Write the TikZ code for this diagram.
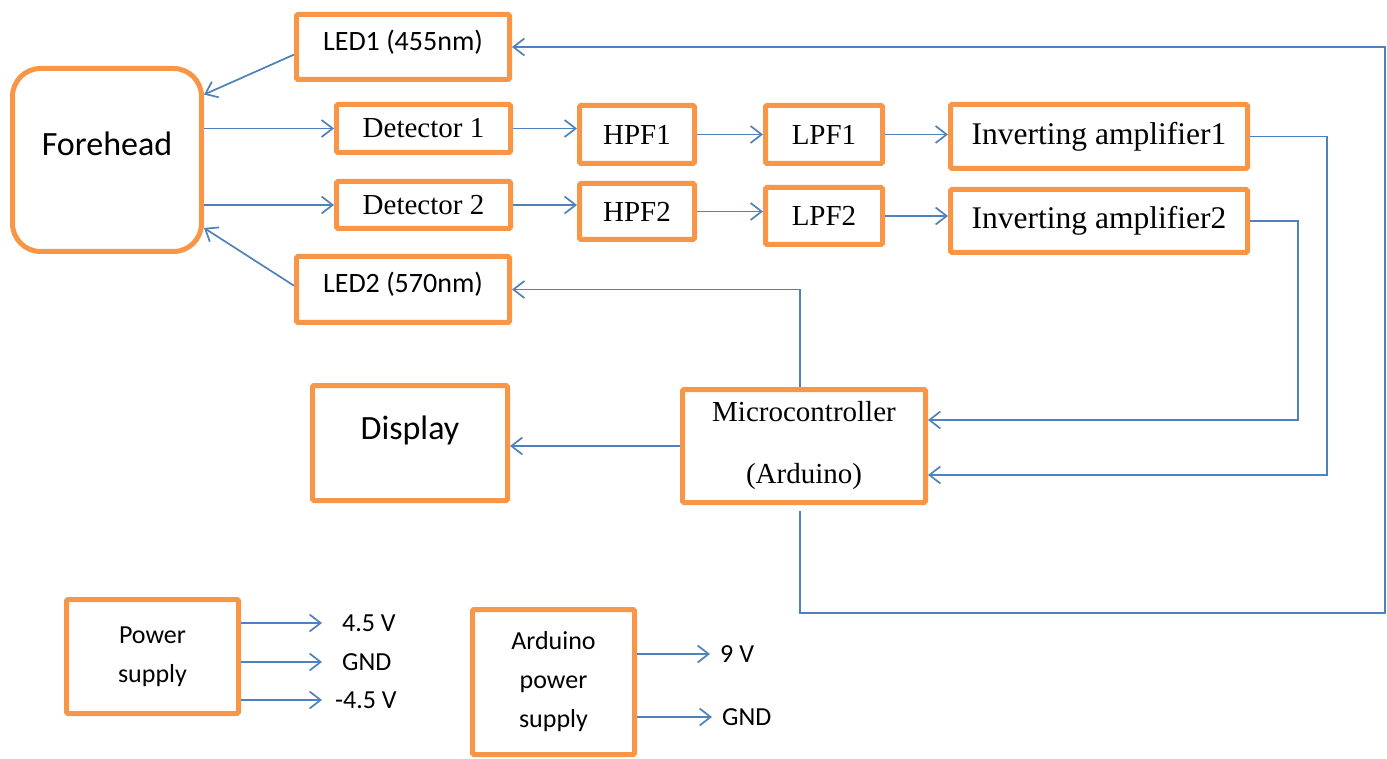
\documentclass[tikz,border=0pt]{standalone}
\usepackage{fontspec}
\setmainfont{Liberation Serif}
\newfontfamily\calib{Carlito}
\usetikzlibrary{arrows.meta}
\definecolor{boxorange}{HTML}{F79646}
\definecolor{wireblue}{HTML}{4F81BD}

\begin{document}
\begin{tikzpicture}[x=1pt,y=-1pt,
  blk/.style={draw=boxorange,line width=5pt,rounded corners=1.5pt,inner sep=0pt},
  bigtxt/.style={font=\calib\fontsize{34}{40}\selectfont},
  sanstxt/.style={font=\calib\fontsize{28}{33}\selectfont},
  smalltxt/.style={font=\calib\fontsize{26}{39}\selectfont},
  seriftxt/.style={font=\fontsize{29}{34}\selectfont},
  widetxt/.style={font=\fontsize{31.5}{36}\selectfont},
  wire/.style={draw=wireblue,line width=1.7pt},
  arr/.style={wire,-{Straight Barb[length=11pt,width=17pt,line width=1.7pt]}}]
\useasboundingbox (0,0) rectangle (1387,759);

% sensor side
\node[blk,minimum width=189,minimum height=183,rounded corners=28pt,
  label={[bigtxt,yshift=16pt]center:Forehead}] (fh) at (107,160) {};
\node[blk,minimum width=213,minimum height=65,
  label={[sanstxt,yshift=5pt]center:LED1 (455nm)}] (led1) at (403,47) {};
\node[blk,seriftxt,minimum width=174,minimum height=48] (det1) at (423.5,128.5) {Detector 1};
\node[blk,seriftxt,minimum width=174,minimum height=47] (det2) at (423.5,205) {Detector 2};
\node[blk,minimum width=213,minimum height=66,
  label={[sanstxt,yshift=5pt]center:LED2 (570nm)}] (led2) at (403,289.5) {};

% filter chain
\node[blk,seriftxt,minimum width=115,minimum height=58] (hpf1) at (637,134.5) {HPF1};
\node[blk,seriftxt,minimum width=115,minimum height=56] (hpf2) at (637,211.5) {HPF2};
\node[blk,seriftxt,minimum width=117,minimum height=58] (lpf1) at (824,134.5) {LPF1};
\node[blk,seriftxt,minimum width=117,minimum height=57] (lpf2) at (824,216) {LPF2};
\node[blk,widetxt,minimum width=297,minimum height=64] (ia1) at (1099,136.5) {Inverting amplifier1};
\node[blk,widetxt,minimum width=297,minimum height=63] (ia2) at (1099,221) {Inverting amplifier2};

% controller and display
\node[blk,minimum width=195,minimum height=115,
  label={[bigtxt,yshift=13pt]center:Display}] (disp) at (410,443) {};
\node[blk,seriftxt,align=center,minimum width=243,minimum height=113] (mc) at (804,446)
  {Microcontroller\\[28pt](Arduino)};

% supplies
\node[blk,smalltxt,align=center,minimum width=172,minimum height=114] (psu) at (152.5,656.5)
  {Power\\supply};
\node[blk,smalltxt,align=center,minimum width=162,minimum height=145] (apsu) at (553.5,682)
  {Arduino\\power\\supply};
\node[smalltxt,anchor=west,inner sep=0pt] (v1) at (342,623) {4.5 V};
\node[smalltxt,anchor=west,inner sep=0pt] (v0) at (342,662) {GND};
\node[smalltxt,anchor=west,inner sep=0pt] (v2) at (335,700) {-4.5 V};
\node[smalltxt,anchor=west,inner sep=0pt] (v9) at (720,654) {9 V};
\node[smalltxt,anchor=west,inner sep=0pt] (vg) at (722,717) {GND};

\coordinate (bus1) at (1327,0);
\coordinate (bus2) at (1298,0);
\coordinate (loop) at (1385,613);

% connections
\draw[arr] (led1.184) -- (fh.34);
\draw[arr] (led2.178) -- (fh.-35);
\draw[arr] (fh.east |- det1) -- (det1.west);
\draw[arr] (fh.east |- det2) -- (det2.west);
\draw[arr] (det1.east) -- (det1.east -| hpf1.west);
\draw[arr] (det2.east) -- (det2.east -| hpf2.west);
\draw[arr] (hpf1.east) -- (lpf1.west);
\draw[arr] (hpf2.east) -- (hpf2.east -| lpf2.west);
\draw[arr] (lpf1.east) -- (lpf1.east -| ia1.west);
\draw[arr] (lpf2.east) -- (lpf2.east -| ia2.west);
\draw[arr] (ia1.east) -- (ia1.east -| bus1) |- ([yshift=-29pt]mc.east);
\draw[arr] (ia2.east) -- (ia2.east -| bus2) |- ([yshift=26pt]mc.east);
\draw[arr] ([xshift=-4pt]mc.north) |- (led2.east);
\draw[arr] ([xshift=-4pt,yshift=-6pt]mc.south) |- (loop) |- (led1.east);
\draw[arr] (mc.west) -- (mc.west -| disp.east);

\draw[arr] (psu.east |- v1) -- ([xshift=-20pt]v1.west);
\draw[arr] (psu.east |- v0) -- ([xshift=-20pt]v0.west);
\draw[arr] (psu.east |- v2) -- ([xshift=-13pt]v2.west);
\draw[arr] (apsu.east |- v9) -- ([xshift=-10pt]v9.west);
\draw[arr] (apsu.east |- vg) -- ([xshift=-10pt]vg.west);
\end{tikzpicture}
\end{document}
